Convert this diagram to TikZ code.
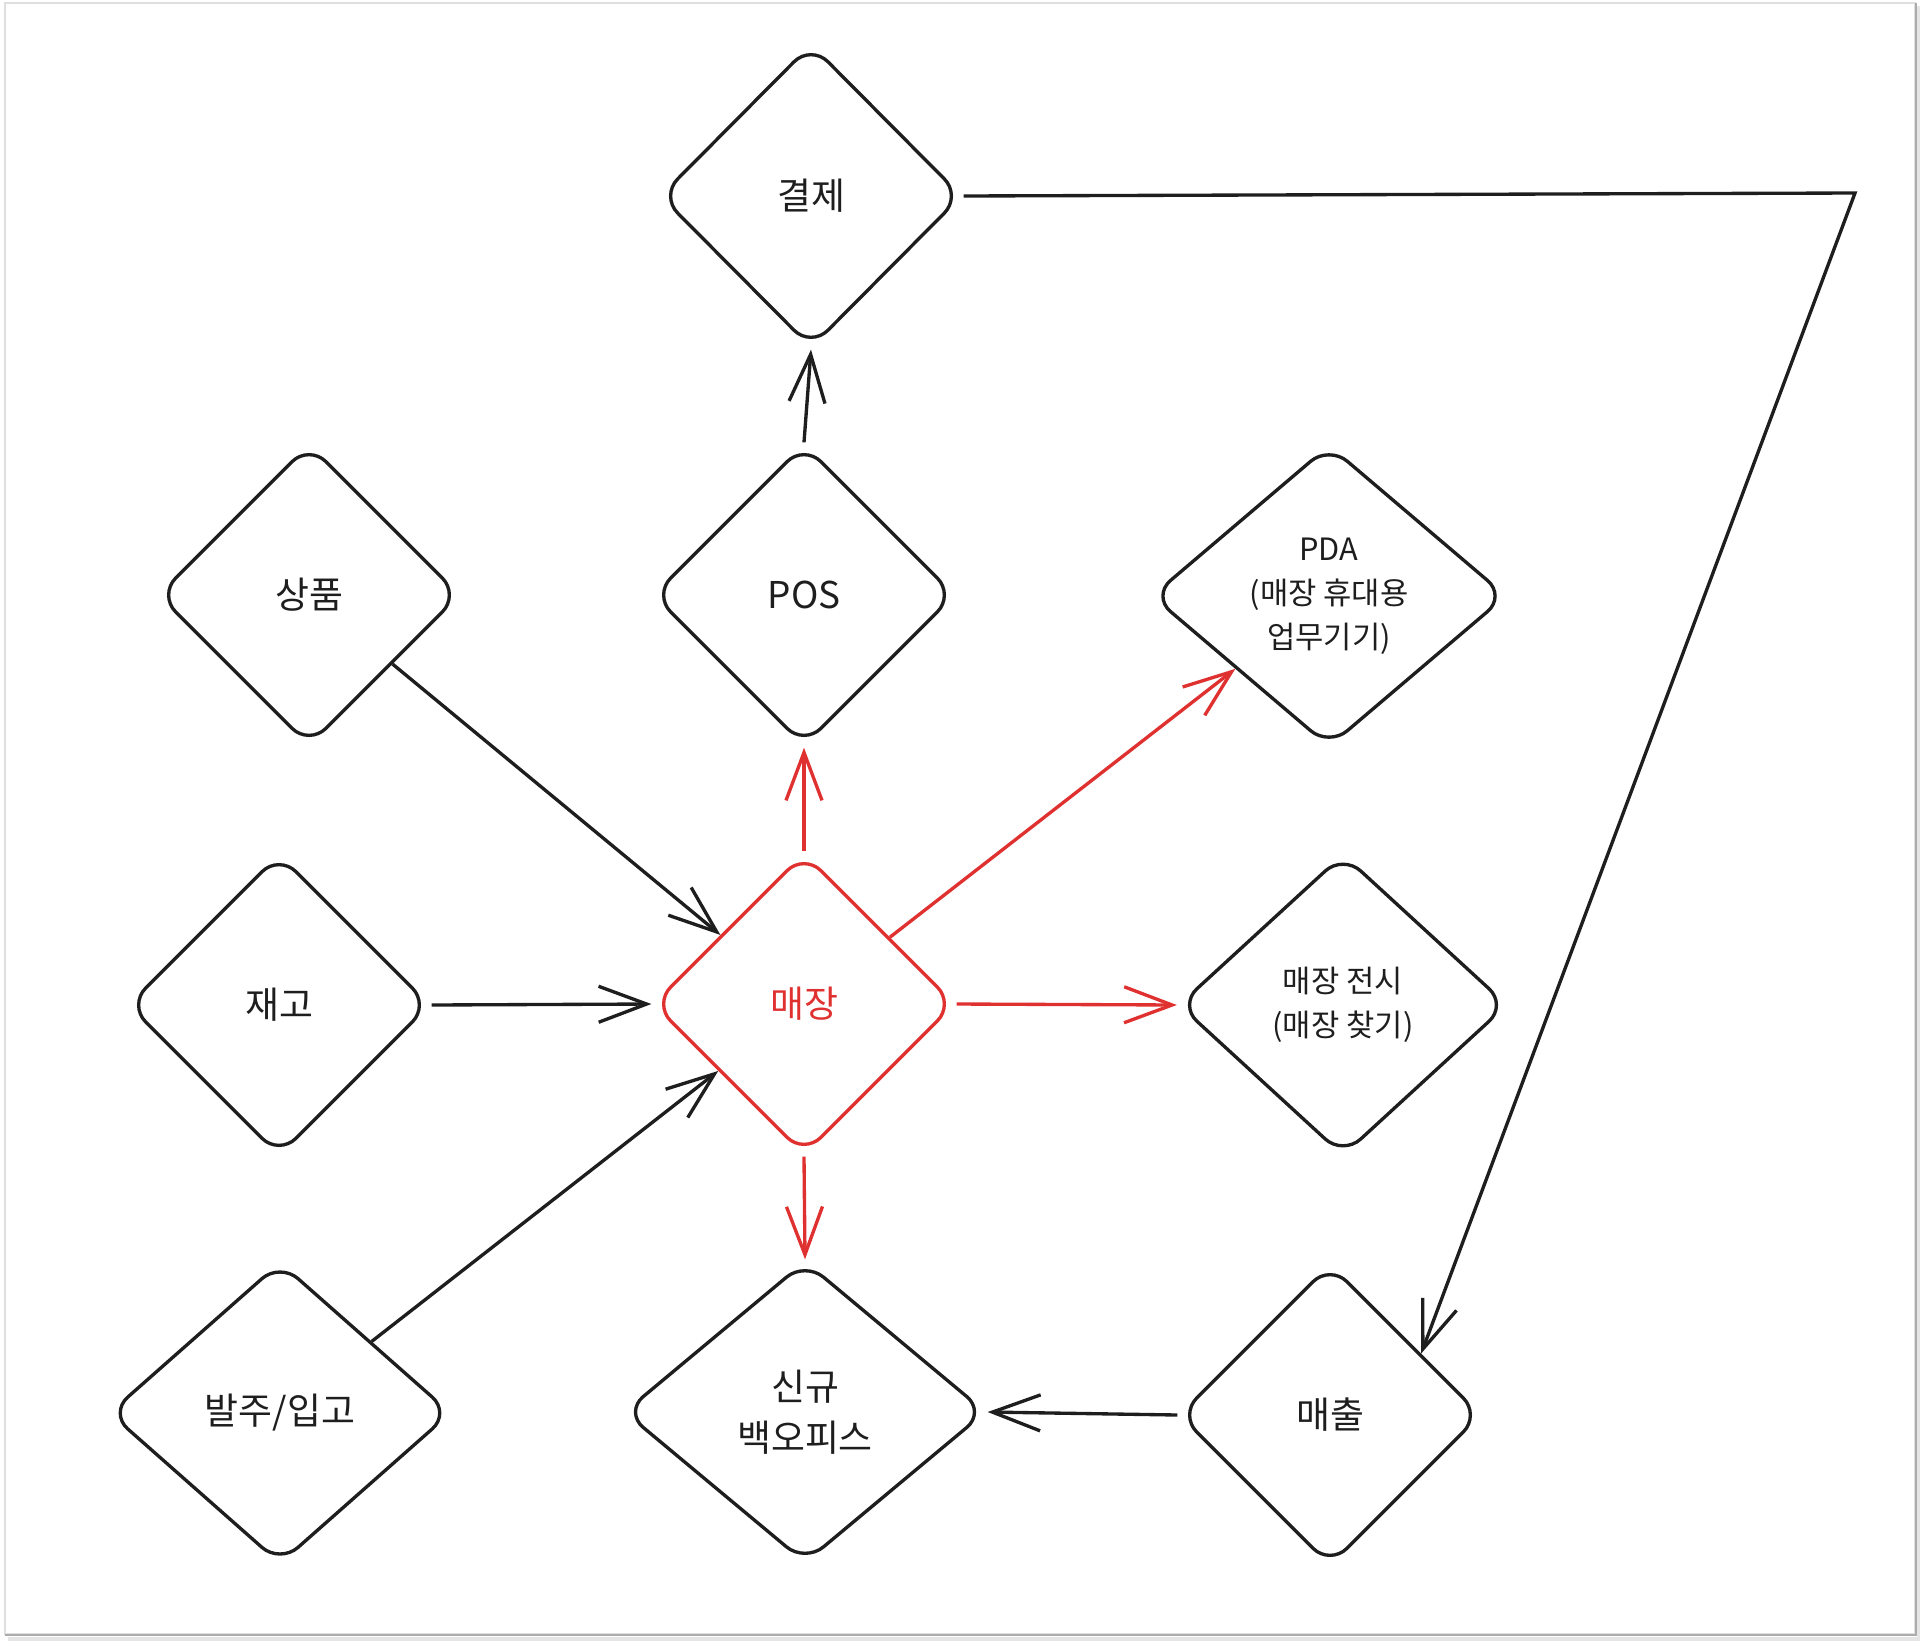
\documentclass[tikz,border=0pt]{standalone}
\usepackage{fontspec}
\setmainfont{Noto Sans CJK KR}
\usetikzlibrary{shapes.geometric,arrows.meta,positioning}
\definecolor{inkblack}{RGB}{30,30,30}
\definecolor{inkred}{RGB}{224,49,49}
\tikzset{
    rhomb/.style={diamond, draw=inkblack, line width=1.9pt, rounded corners=0.48cm,
        inner sep=0pt, align=center, text=inkblack,
        font=\fontsize{21}{29}\selectfont,
        minimum width=6.04cm, minimum height=6.04cm},
    smalltext/.style={font=\fontsize{17.5}{25}\selectfont},
    hot/.style={draw=inkred, text=inkred},
    link/.style={draw=inkblack, line width=1.9pt,
        -{Straight Barb[length=0.96cm, width=0.72cm]}},
    hotlink/.style={link, draw=inkred}
}

\begin{document}
\begin{tikzpicture}[x=0.02cm, y=-0.02cm]
    \useasboundingbox (0,0) rectangle (1920,1643);
    % frame
    \draw[gray!25, line width=1pt] (5,3) rectangle (1915,1634);
    \draw[gray!65, line width=1.5pt] (1916,3) -- (1916,1635) -- (5,1635);
    \draw[gray!20, line width=2pt] (1919,6) -- (1919,1639) -- (8,1639);

    % nodes
    \node[rhomb, minimum height=6.08cm] (pay) at (811,196) {결제};
    \node[rhomb] (pos) at (804,595) {POS};
    \node[rhomb] (goods) at (309,595) {상품};
    \node[rhomb, smalltext, minimum width=7.1cm] (pda) at (1329,596)
        {PDA\\(매장 휴대용\\업무기기)};
    \node[rhomb] (stock) at (279,1005) {재고};
    \node[rhomb, hot] (store) at (804,1004) {매장};
    \node[rhomb, smalltext, minimum width=6.58cm] (display) at (1343,1005)
        {매장 전시\\(매장 찾기)};
    \node[rhomb, minimum width=6.84cm] (order) at (280,1413) {발주/입고};
    \node[rhomb, minimum width=7.24cm] (office) at (805,1412) {신규\\백오피스};
    \node[rhomb] (sales) at (1330,1415) {매출};
    \coordinate (bend) at (1855,193);

    % connectors
    \draw[link] (pos.north) -- (pay.south);
    \draw[link] (goods) -- (store);
    \draw[link] (stock.east) -- (store.west);
    \draw[link] (order) -- (store);
    \draw[hotlink] (store.north) -- (pos.south);
    \draw[hotlink] (store) -- (pda);
    \draw[hotlink] (store.east) -- (display.west);
    \draw[hotlink] (store.south) -- (office.north);
    \draw[link] (sales.west) -- (office.east);
    \draw[link] (pay.east) -- (bend) -- (sales.34);
\end{tikzpicture}
\end{document}
